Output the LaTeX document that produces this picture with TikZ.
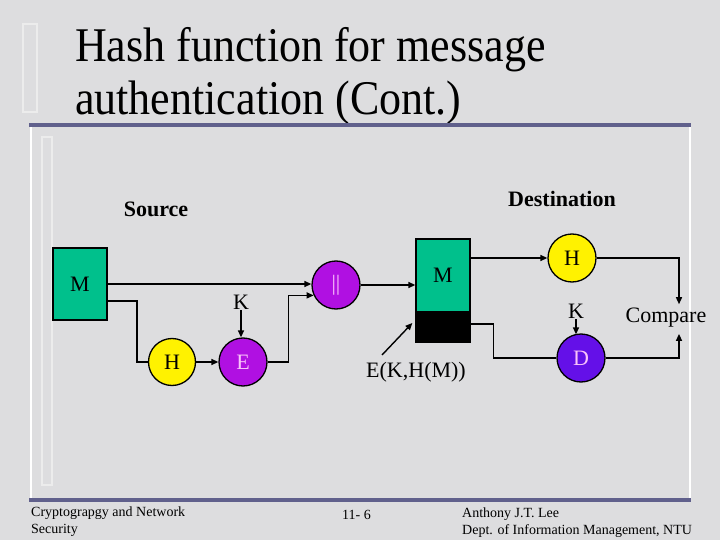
\documentclass[tikz,border=0pt]{standalone}
\usepackage{fontspec}
\setmainfont{Liberation Serif}
\usetikzlibrary{arrows.meta,calc}
\definecolor{bg}{RGB}{221,221,223}
\definecolor{tealbox}{RGB}{0,192,140}
\definecolor{purp}{RGB}{176,16,226}
\definecolor{viol}{RGB}{100,16,232}
\definecolor{pinktxt}{RGB}{250,195,250}
\definecolor{rulecol}{RGB}{96,96,140}
\begin{document}
\begin{tikzpicture}[x=1pt,y=-1pt,
  conn/.style={line width=1.4pt},
  arr/.style={conn,-{Triangle[length=7pt,width=6pt]}},
  txt/.style={font=\fontsize{22}{22}\selectfont},
  boxM/.style={draw,line width=1.3pt,fill=tealbox,minimum width=54pt,inner sep=0pt,txt},
  ball/.style={draw,line width=1.3pt,circle,minimum size=48pt,inner sep=0pt,txt},
  lbl/.style={txt,inner sep=1pt},
  head/.style={font=\bfseries\fontsize{22}{22}\selectfont,inner sep=0pt,anchor=base},
  foot/.style={font=\fontsize{14}{17}\selectfont,inner sep=0pt,anchor=base west}]
\fill[bg] (0,0) rectangle (720,540);
\useasboundingbox (0,0) rectangle (720,540);
% title decoration
\draw[white!85!gray,line width=2pt] (23,24) rectangle (37,112);
\node[anchor=base west,inner sep=0pt] (t1) at (75,62) {\fontsize{44}{44}\selectfont\scalebox{1}[1.1]{Hash function for message}};
\node[anchor=base west,inner sep=0pt] (t2) at (75,115) {\fontsize{44}{44}\selectfont\scalebox{1}[1.1]{authentication (Cont.)}};
% frame
\draw[white,line width=2pt] (31,125) -- (31,500);
\draw[white,line width=2.5pt] (690,125) -- (690,500);
\draw[rulecol,line width=4pt] (29,125) -- (691,125);
\draw[rulecol,line width=4pt] (29,500) -- (691,500);
\draw[white!85!gray,line width=1.5pt] (42,137) rectangle (52,485);
% headings
\node[head] (src) at (156,217) {Source};
\node[head] (dst) at (562,207) {Destination};
% source side
\node[boxM,minimum height=72pt] (Ms) at (80,284) {M};
\node[ball,fill=purp,text=pinktxt] (OR) at (336,285) {||};
\node[ball,fill=yellow,minimum size=47pt] (Hs) at (172,362) {H};
\node[ball,fill=purp,text=pinktxt] (Es) at (243,362) {E};
\node[lbl] (Ks) at (241,302) {K};
% destination side
\node[boxM,minimum height=73pt] (Md) at (443,275.5) {M};
\node[draw,line width=1.3pt,fill=black,minimum width=54pt,minimum height=30pt,inner sep=0pt] (Blk) at (443,327) {};
\node[ball,fill=yellow] (Hd) at (572,258) {H};
\node[lbl] (Kd) at (576,311) {K};
\node[ball,fill=viol,text=pinktxt] (D) at (581,358) {D};
\node[lbl,anchor=base] (Cmp) at (666,322) {Compare};
\node[lbl,anchor=base] (EK) at (416,377) {E(K,H(M))};
\coordinate (ekTail) at (382,355);
% connectors
\draw[arr] (Ms.east) -- (Ms.east -| OR.west);
\draw[conn] ([yshift=-17pt]Ms.east) -| ($(Hs.west)+(-11,0)$) -- (Hs.west);
\draw[arr] (Hs.east) -- (Es.west);
\draw[arr] (Ks.south) -- (Ks.south |- Es.north);
\draw[arr] (Es.east) -- ++(21,0) |- (OR.205);
\draw[arr] (OR.east) -- (OR.east -| Md.west);
\draw[arr] (Hd.west -| Md.east) -- (Hd.west);
\draw[arr] (Hd.east) -| ($(Cmp.north)+(13,-2)$);
\draw[arr] (ekTail) -- ([shift={(-3,-4)}]Blk.west);
\draw[conn] ([yshift=3pt]Blk.east) -- ++(23,0) |- (D.west);
\draw[arr] (Kd.south) -- ([yshift=-1pt]Kd.south |- D.north);
\draw[arr] (D.east) -| ($(Cmp.south)+(13,6)$);
% footer
\node[foot] (f1a) at (31,516) {Cryptograpgy and Network};
\node[foot] (f1b) at (31,533) {Security};
\node[foot] (f2) at (342,519) {11- 6};
\node[foot] (f3a) at (462,517) {Anthony J.T. Lee};
\node[foot] (f3b) at (462,534) {Dept. of Information Management, NTU};
\end{tikzpicture}
\end{document}
